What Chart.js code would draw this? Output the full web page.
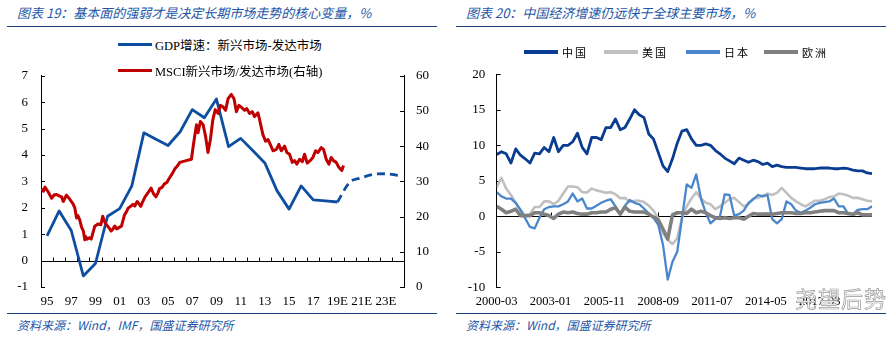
<!DOCTYPE html>
<html>
<head>
<meta charset="utf-8">
<script src="https://cdn.jsdelivr.net/npm/chart.js@4.4.1/dist/chart.umd.min.js"></script>
<style>
  body { margin: 0; background: #fff; }
  #page { position: relative; width: 892px; height: 339px; overflow: hidden; font-family: "Liberation Serif", "Noto Sans CJK SC", serif; }
  .title { position: absolute; top: 3px; font: italic 13px "Noto Sans CJK SC", sans-serif; color: #2456a6; white-space: nowrap; }
  .rule { position: absolute; height: 0; border-top: 1.5px solid #1f3f7f; }
  .src { position: absolute; top: 316px; font: italic 12px "Noto Sans CJK SC", sans-serif; color: #2456a6; white-space: nowrap; }
  canvas { position: absolute; }
  .leg { position: absolute; height: 18px; display: flex; align-items: center; white-space: nowrap; font-size: 12.5px; color: #000; }
  .leg i { display: inline-block; width: 34px; height: 3px; margin-right: 3px; }
  .leg2 span { font-size: 11px; letter-spacing: 2px; }
  .leg2 i { width: 34px; height: 3.5px; margin-right: 4px; }
  #mark { position: absolute; left: 795px; top: 281px; font: 22px "Noto Sans CJK SC", sans-serif; color: #fff;
          -webkit-text-stroke: 0.7px #999; letter-spacing: 1px; }
</style>
</head>
<body>
<div id="page">
  <div class="title" style="left:17px">图表 19：基本面的强弱才是决定长期市场走势的核心变量，%</div>
  <div class="title" style="left:466px">图表 20：中国经济增速仍远快于全球主要市场，%</div>
  <div class="rule" style="left:7px;width:430px;top:26px"></div>
  <div class="rule" style="left:456px;width:430px;top:26px"></div>

  <canvas id="left" width="446" height="260" style="left:0;top:55px"></canvas>
  <canvas id="right" width="446" height="260" style="left:446px;top:55px"></canvas>

  <div class="leg" style="left:118px;top:35px"><i style="background:#0d4ea1"></i><span>GDP增速：新兴市场-发达市场</span></div>
  <div class="leg" style="left:118px;top:61px"><i style="background:#c00000"></i><span>MSCI新兴市场/发达市场(右轴)</span></div>

  <div class="leg leg2" style="left:524px;top:43px"><i style="background:#0a3d91"></i><span>中国</span></div>
  <div class="leg leg2" style="left:604px;top:43px"><i style="background:#c0c0c0"></i><span>美国</span></div>
  <div class="leg leg2" style="left:686px;top:43px"><i style="background:#4a86cc"></i><span>日本</span></div>
  <div class="leg leg2" style="left:764px;top:43px"><i style="background:#808080"></i><span>欧洲</span></div>

  <div class="rule" style="left:7px;width:430px;top:313px"></div>
  <div class="rule" style="left:456px;width:430px;top:313px"></div>
  <div class="src" style="left:17px">资料来源：Wind，IMF，国盛证券研究所</div>
  <div class="src" style="left:466px">资料来源：Wind，国盛证券研究所</div>
  <div id="mark">尧望后势</div>
</div>

<script>
// ---- Left chart data ----
const yearLabels = ['95','96','97','98','99','00','01','02','03','04','05','06','07','08','09',
  '10','11','12','13','14','15','16','17','18','19E','20E','21E','22E','23E','24E'];

// GDP growth gap, emerging minus developed (left axis)
const gdpActual = [0.94, 1.88, 1.14, -0.58, -0.11, 1.68, 1.97, 2.82, 4.84, 4.6, 4.36, 4.88, 5.72, 5.41, 6.12,
  4.32, 4.63, 4.17, 3.7, 2.65, 1.95, 2.83, 2.3, 2.26, 2.22, null, null, null, null, null];
const gdpForecast = [null, null, null, null, null, null, null, null, null, null, null, null, null, null, null,
  null, null, null, null, null, null, null, null, null, 2.22, 2.96, 3.14, 3.27, 3.29, 3.23];

// MSCI EM / DM ratio (right axis), by decimal year
const msciYears = [1995.0,1995.2,1995.33,1995.6,1995.88,1996.1,1996.3,1996.5,1996.7,1996.84,1997.1,1997.3,1997.5,1997.65,
  1997.8,1997.94,1998.05,1998.2,1998.35,1998.5,1998.62,1998.7,1998.8,1999.0,1999.15,1999.3,1999.45,1999.6,1999.7,1999.95,
  2000.1,2000.25,2000.4,2000.6,2000.8,2000.95,2001.1,2001.25,2001.4,2001.65,2001.9,2002.05,2002.2,2002.4,2002.6,2002.75,
  2002.95,2003.1,2003.25,2003.4,2003.6,2003.85,2004.1,2004.3,2004.5,2004.65,2004.8,2005.0,2005.2,2005.4,2005.6,2005.85,
  2006.05,2006.3,2006.47,2007.0,2007.43,2007.62,2007.85,2007.98,2008.17,2008.4,2008.6,2008.8,2009.0,2009.2,2009.4,
  2009.63,2009.83,2010.04,2010.26,2010.46,2010.73,2010.95,2011.15,2011.36,2011.58,2011.83,2012.0,2012.24,2012.46,
  2012.65,2012.93,2013.07,2013.34,2013.56,2013.76,2013.95,2014.17,2014.45,2014.66,2014.86,2015.13,2015.32,2015.54,
  2015.77,2015.96,2016.15,2016.37,2016.6,2016.78,2017.0,2017.25,2017.47,2017.69,2017.88,2018.16,2018.35,2018.57,
  2018.79,2018.98,2019.17,2019.4,2019.61,2019.86,2020.0];
const msciRatio = [27.9,27.2,28.4,27.0,25.2,26.2,26.3,25.9,25.6,24.3,26.1,25.3,24.3,23.6,
  22.4,19.6,20.3,19.1,17.0,15.9,13.4,14.3,13.6,14.0,13.6,15.5,17.3,17.6,17.9,17.7,
  20.1,18.6,17.7,16.9,15.9,16.5,17.3,16.5,16.8,17.3,20.5,21.3,22.4,22.9,23.5,23.0,
  24.3,23.6,22.9,24.2,25.6,26.8,28.1,26.5,25.6,26.6,27.95,28.3,29.3,29.7,30.9,32.2,
  33.5,34.5,35.4,35.9,36.3,41.0,46.1,43.8,47.0,46.1,42.8,38.2,41.9,47.5,50.4,
  49.3,51.6,51.2,50.2,53.5,54.7,53.5,49.8,51.6,51.0,50.2,50.7,49.3,49.8,
  48.4,49.5,47.5,43.3,41.4,41.9,40.5,38.7,39.1,40.5,38.7,40.0,38.2,37.7,
  35.4,35.9,34.9,36.3,35.6,37.7,35.2,35.9,36.8,38.7,38.2,39.6,39.1,36.3,
  34.9,36.8,35.9,35.4,34.0,33.1,34.5];

// ---- Right chart data (quarterly, 2000-03 .. 2019-12) ----
const rightTickLabels = ['2000-03','2003-01','2005-11','2008-09','2011-07','2014-05','2017-03'];

const chinaGdp = [8.7,9.1,8.8,7.5, 9.5,8.6,8.1,7.5, 8.9,8.8,9.7,9.1, 11.1,9.1,10.0,10.0, 10.5,11.7,9.7,8.8,
  11.1,11.1,10.8,12.5, 12.5,13.7,12.2,12.5, 13.7,15.0,14.3,13.9, 11.6,10.9,9.0,7.1, 6.3,8.1,10.3,12.0,
  12.2,10.9,10.0,10.0, 10.2,10.0,9.3,8.8, 8.2,7.8,7.4,8.2, 7.9,7.6,7.9,7.7, 7.3,7.5,7.0,7.2,
  7.0,6.9,6.9,6.9, 6.8,6.7,6.7,6.7, 6.8,6.8,6.8,6.7, 6.7,6.8,6.7,6.5, 6.4,6.4,6.1,6.0];
const usGdp = [4.1,5.4,3.9,3.0, 1.9,0.9,0.1,0.3, 1.3,1.3,2.1,2.1, 1.7,2.2,3.2,4.2, 4.2,4.1,3.4,3.35,
  3.9,3.65,3.5,3.3, 3.4,3.1,2.55,2.6, 2.0,2.2,2.2,2.0, 1.5,0.8,-0.3,-2.4, -3.3,-3.9,-3.1,-0.2,
  1.4,2.5,3.4,2.5, 1.9,1.7,1.0,1.4, 1.9,2.4,2.6,2.0, 1.4,1.7,2.5,2.6, 2.9,3.2,3.0,3.3,
  4.0,3.3,2.6,2.1, 1.7,1.4,1.8,2.2, 2.2,2.4,2.7,2.8, 3.2,3.1,2.9,2.6, 2.6,2.4,2.2,2.1];
const japanGdp = [3.4,2.8,2.5,2.5, 1.9,0.9,-0.3,-1.5, -1.7,-0.2,1.0,1.3, 1.4,1.4,1.7,2.1, 3.2,2.1,2.5,1.1,
  1.1,1.5,1.9,2.2, 2.4,1.4,0.3,1.5, 2.3,1.9,1.7,1.1, 0.4,-0.2,-1.2,-4.0, -8.9,-6.4,-5.0,-0.3,
  4.5,4.0,5.9,2.5, 0.5,-1.0,-0.4,0.0, 3.1,3.0,0.1,0.3, 0.8,1.9,2.4,3.0, 2.8,3.0,-0.4,-1.0,
  -0.4,2.1,1.7,0.8, 0.5,0.8,1.2,1.7, 1.9,2.0,2.1,2.5, 1.4,1.4,0.3,0.3, 0.9,1.0,1.0,1.4];
const euroGdp = [1.4,1.0,0.5,0.7, 1.0,0.1,0.1,0.1, 0.5,0.5,0.3,0.1, -0.3,0.3,0.6,0.5, 0.6,0.4,0.3,0.3,
  0.5,0.5,0.6,0.6, 1.0,1.2,0.3,1.3, 0.7,0.6,0.6,0.6, 0.3,-0.1,-0.5,-1.8, -3.2,0.2,0.5,0.5,
  0.4,1.0,0.5,0.7, 0.5,0.1,-0.2,-0.3, -0.2,-0.3,-0.2,-0.2, -0.4,0.0,0.4,0.3, 0.3,0.3,0.3,0.4,
  0.5,0.5,0.5,0.4, 0.4,0.5,0.5,0.6, 0.7,0.8,0.8,0.8, 0.5,0.5,0.4,0.3, 0.5,0.2,0.2,0.2];

// months since 2000-03
const monthOf = s => (parseInt(s.slice(0, 4)) - 2000) * 12 + parseInt(s.slice(5, 7)) - 3;
const quarterPoints = arr => arr.map((v, i) => ({ x: i * 3, y: v }));

Chart.defaults.font.family = '"Liberation Serif", "Noto Sans CJK SC", serif';
Chart.defaults.font.size = 13;
Chart.defaults.color = '#000';

// zero axis line with upward ticks, and inward ticks on the value axes
function axisDecor(xTickPixels) {
  return {
    id: 'axisDecor',
    beforeDatasetsDraw(chart) {
      const { ctx, chartArea: a, scales } = chart;
      const y0 = Math.round(scales.y.getPixelForValue(0)) + 0.5;
      ctx.save();
      ctx.strokeStyle = '#000';
      ctx.lineWidth = 1;
      ctx.beginPath();
      ctx.moveTo(a.left, y0);
      ctx.lineTo(a.right, y0);
      xTickPixels(chart).forEach(px => {
        const x = Math.round(px) + 0.5;
        ctx.moveTo(x, y0);
        ctx.lineTo(x, y0 - 4);
      });
      scales.y.ticks.forEach((t, i) => {
        const y = Math.round(scales.y.getPixelForTick(i)) + 0.5;
        ctx.moveTo(a.left, y);
        ctx.lineTo(a.left + 4, y);
      });
      if (scales.y1) {
        scales.y1.ticks.forEach((t, i) => {
          const y = Math.round(scales.y1.getPixelForTick(i)) + 0.5;
          ctx.moveTo(a.right, y);
          ctx.lineTo(a.right - 4, y);
        });
      }
      ctx.stroke();
      ctx.restore();
    }
  };
}

const gdpBlue = '#0d4ea1';

new Chart(document.getElementById('left'), {
  type: 'line',
  data: {
    labels: yearLabels,
    datasets: [
      { label: 'MSCI', data: msciYears.map((x, i) => ({ x, y: msciRatio[i] })), xAxisID: 'xm', yAxisID: 'y1',
        borderColor: '#c00000', borderWidth: 3, pointRadius: 0, borderJoinStyle: 'round', order: 0 },
      { label: 'GDP', data: gdpActual, xAxisID: 'x', yAxisID: 'y',
        borderColor: gdpBlue, borderWidth: 2.8, pointRadius: 0, borderJoinStyle: 'round', order: 1 },
      { label: 'GDP E', data: gdpForecast, xAxisID: 'x', yAxisID: 'y',
        borderColor: gdpBlue, borderWidth: 2.8, pointRadius: 0, borderDash: [8, 5],
        cubicInterpolationMode: 'monotone', order: 2 }
    ]
  },
  options: {
    responsive: false,
    animation: false,
    layout: { padding: { top: 16.7, left: 0, right: 0, bottom: 0 } },
    plugins: { legend: { display: false }, tooltip: { enabled: false } },
    scales: {
      x: {
        type: 'category', offset: true,
        grid: { display: false, drawTicks: false }, border: { display: false },
        ticks: { autoSkip: false, maxRotation: 0, padding: 7, callback: (v, i) => i % 2 === 0 ? yearLabels[i] : '' },
        afterFit: s => { s.height = 28; }
      },
      xm: { type: 'linear', min: 1995, max: 2025, display: false },
      y: {
        position: 'left', min: -1, max: 7,
        ticks: { stepSize: 1, padding: 13 },
        grid: { display: false, drawTicks: false }, border: { color: '#000' },
        afterFit: s => { s.width = 41; }
      },
      y1: {
        position: 'right', min: 0, max: 60,
        ticks: { stepSize: 10, padding: 12 },
        grid: { display: false, drawTicks: false }, border: { color: '#000' },
        afterFit: s => { s.width = 42; }
      }
    }
  },
  plugins: [axisDecor(chart => {
    const x = chart.scales.x;
    const step = x.getPixelForValue(1) - x.getPixelForValue(0);
    return yearLabels.map((_, i) => x.getPixelForValue(i) + step / 2);
  })]
});

new Chart(document.getElementById('right'), {
  type: 'line',
  data: {
    datasets: [
      { label: '中国', data: quarterPoints(chinaGdp), borderColor: '#0a3d91', borderWidth: 2.8, order: 3 },
      { label: '美国', data: quarterPoints(usGdp), borderColor: '#c0c0c0', borderWidth: 2.6, order: 2 },
      { label: '日本', data: quarterPoints(japanGdp), borderColor: '#4a86cc', borderWidth: 2.3, order: 1 },
      { label: '欧洲', data: quarterPoints(euroGdp), borderColor: '#808080', borderWidth: 3.6, order: 0 }
    ].map(d => Object.assign(d, { pointRadius: 0, borderJoinStyle: 'round' }))
  },
  options: {
    responsive: false,
    animation: false,
    layout: { padding: { top: 7.7, left: 0, right: 20, bottom: 0 } },
    plugins: { legend: { display: false }, tooltip: { enabled: false } },
    scales: {
      x: {
        type: 'linear', min: 0, max: 237,
        grid: { display: false, drawTicks: false }, border: { display: false },
        afterBuildTicks: s => { s.ticks = rightTickLabels.map(l => ({ value: monthOf(l) })); },
        ticks: { autoSkip: false, maxRotation: 0, padding: 7, font: { size: 12.5 }, callback: (v, i) => rightTickLabels[i] },
        afterFit: s => { s.height = 27.7; }
      },
      y: {
        min: -10, max: 20,
        ticks: { stepSize: 5, padding: 11.5 },
        grid: { display: false, drawTicks: false }, border: { color: '#000' },
        afterFit: s => { s.width = 50.7; }
      }
    }
  },
  plugins: [axisDecor(chart => {
    const x = chart.scales.x;
    return x.ticks.filter((t, i) => i % 2 === 1).map(t => x.getPixelForValue(t.value));
  })]
});
</script>
</body>
</html>
